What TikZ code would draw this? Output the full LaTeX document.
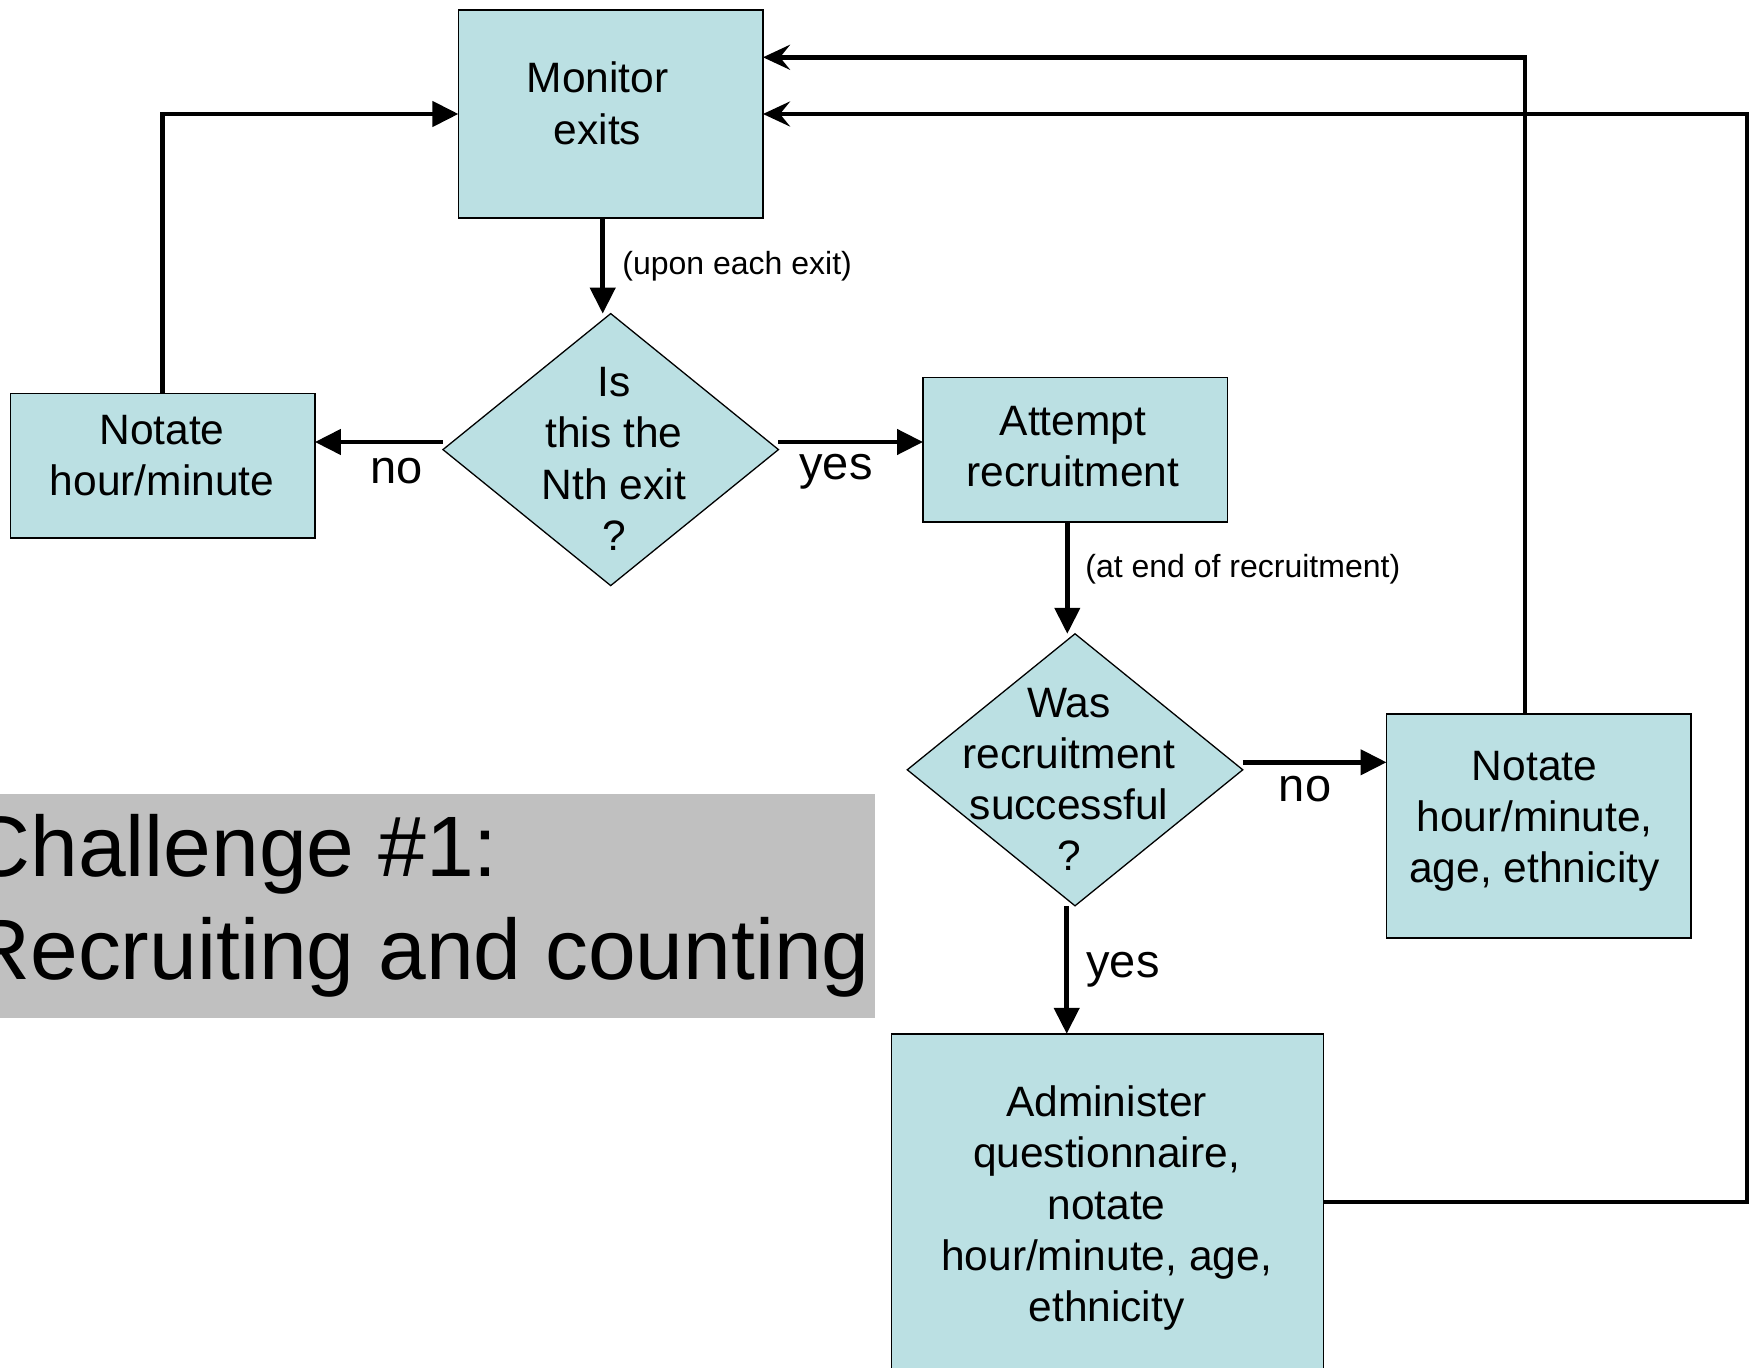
\documentclass[tikz,border=0pt]{standalone}
\usepackage{fontspec}
\setmainfont{Liberation Sans}
\usetikzlibrary{arrows.meta,shapes.geometric}
\definecolor{boxfill}{RGB}{187,224,227}
\definecolor{ttlgray}{RGB}{192,192,192}
\begin{document}
\begin{tikzpicture}[x=0.5pt,y=-0.5pt,
  box/.style={draw=black, line width=0.75pt, fill=boxfill, rectangle, inner sep=0pt, outer sep=0pt, minimum width=152.3pt},
  dia/.style={draw=black, line width=0.65pt, fill=boxfill, diamond, inner sep=0pt, outer sep=0pt, minimum width=167.75pt, minimum height=136pt},
  txt/.style={align=center, inner sep=0pt, anchor=base, font=\fontsize{21.25}{25.65}\selectfont},
  lbl/.style={inner sep=0pt, anchor=base, font=\fontsize{23.5}{28}\selectfont},
  small/.style={inner sep=0pt, anchor=base west, font=\fontsize{16}{19}\selectfont},
  conn/.style={line width=2.25pt},
  arr/.style={conn, -{Triangle[length=13pt,width=12.5pt]}},
  arrs/.style={conn, -{Stealth[length=13.5pt,width=12.5pt,inset=5pt]}}
]
\useasboundingbox (0,0) rectangle (1749,1368);
\clip (0,0) rectangle (1749,1368);

% title background
\node[fill=ttlgray, inner sep=0pt, outer sep=0pt, minimum width=448.2pt, minimum height=111.9pt] (ttlbg) at (426.3,905.9) {};
\node[inner sep=0pt, anchor=base west, align=left, font=\fontsize{42.9}{51.55}\selectfont] (ttl) at (-32,979.6) {Challenge \#1:\\Recruiting and counting};

% boxes
\node[box, minimum height=104pt] (mon) at (610.7,114) {};
\node[box, minimum height=72.3pt] (n1) at (162.6,465.7) {};
\node[box, minimum height=72.15pt] (att) at (1075.3,449.8) {};
\node[box, minimum height=111.85pt] (n2) at (1538.8,826) {};
\node[box, minimum width=216.1pt, minimum height=180pt] (adm) at (1107.4,1213.8) {};
\node[dia] (d1) at (610.7,449.6) {};
\node[dia] (d2) at (1075,769.8) {};

% texts (anchor base = last line's baseline)
\node[txt] (tmon) at (597.5,144.3) {Monitor\\exits};
\node[txt] (td1) at (614,550.4) {Is\\this the\\Nth exit\\?};
\node[txt] (tn1) at (162,496) {Notate\\hour/minute};
\node[txt] (tatt) at (1073,486.8) {Attempt\\recruitment};
\node[txt] (td2) at (1069,870.9) {Was\\recruitment\\successful\\?};
\node[txt] (tn2) at (1534.5,882.6) {Notate\\hour/minute,\\age, ethnicity};
\node[txt] (tadm) at (1106.5,1321.8) {Administer\\questionnaire,\\notate\\hour/minute, age,\\ethnicity};

% connectors
\coordinate (rc) at (1747.7,0);
\draw[arr] ([xshift=-4pt]mon.south) -- ([xshift=-4pt]d1.north);
\draw[arr] ([yshift=3.8pt]d1.west) -- ([yshift=3.8pt]d1.west -| n1.east);
\draw[arr] ([yshift=3.8pt]d1.east) -- ([yshift=3.8pt]d1.east -| att.west);
\draw[arr] (n1.north) |- (mon.west);
\draw[arr] ([xshift=-4pt]att.south) -- ([xshift=-4pt]att.south |- d2.north);
\draw[arr] ([yshift=3.75pt]d2.east) -- ([yshift=3.75pt]d2.east -| n2.west);
\draw[arr] ([xshift=-4.15pt]d2.south) -- ([xshift=-4.15pt]d2.south |- adm.north);
\draw[arrs] ([xshift=-7pt]n2.north) |- ([yshift=28.35pt]mon.east);
\draw[arrs] ([yshift=6pt]adm.east) -- ([yshift=6pt]adm.east -| rc) |- (mon.east);

% labels
\node[small] (lup) at (622,275) {(upon each exit)};
\node[small] (lend) at (1085,578) {(at end of recruitment)};
\node[lbl] (lno1) at (397,484) {no};
\node[lbl] (lyes1) at (836,480) {yes};
\node[lbl] (lno2) at (1305,801.7) {no};
\node[lbl] (lyes2) at (1123,977) {yes};
\end{tikzpicture}
\end{document}
